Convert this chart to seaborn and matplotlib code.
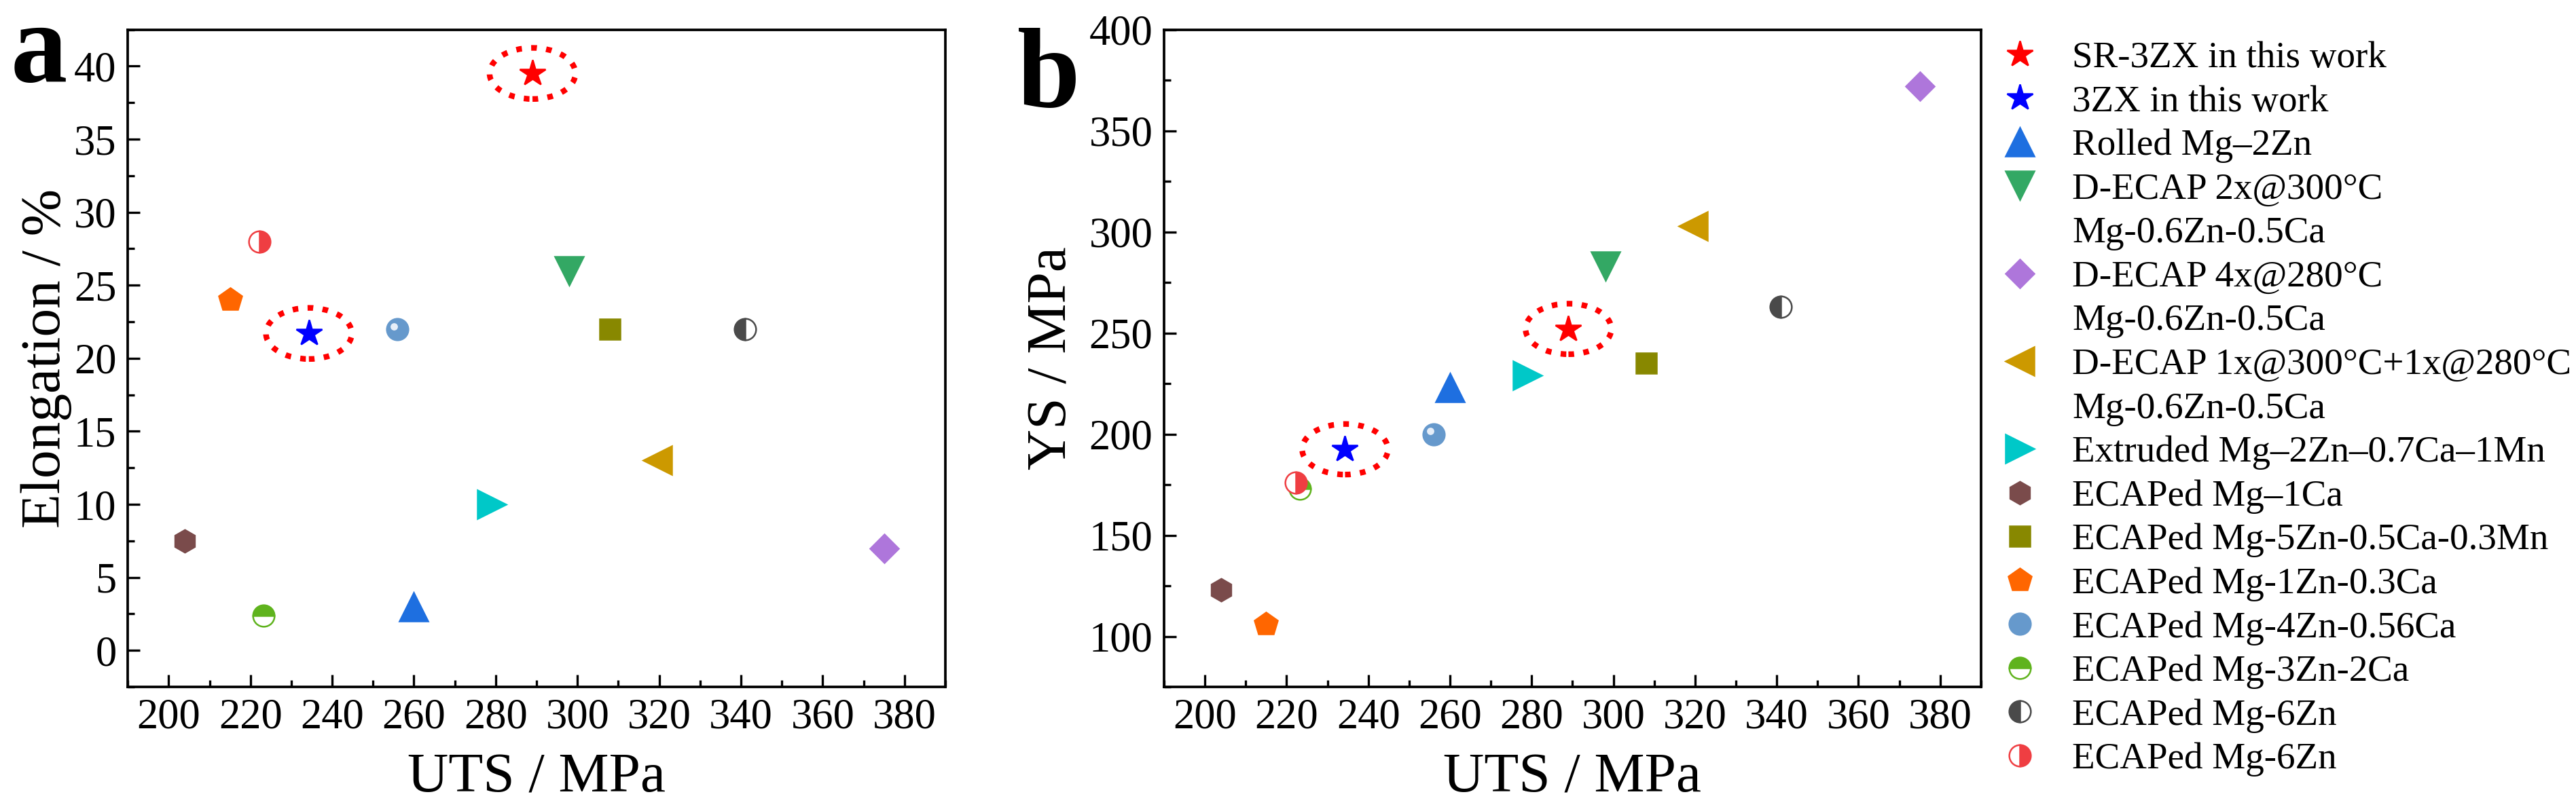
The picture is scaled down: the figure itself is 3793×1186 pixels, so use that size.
#!/usr/bin/env python3

import seaborn as sns
import matplotlib.pyplot as plt
import matplotlib.transforms as mtransforms
from matplotlib.lines import Line2D
from matplotlib.patches import Ellipse
from matplotlib.ticker import MultipleLocator

# Data
labels = [
    "SR-3ZX in this work",
    "3ZX in this work",
    "Rolled Mg\u20132Zn",
    "D-ECAP 2x@300\u00b0C\nMg-0.6Zn-0.5Ca",
    "D-ECAP 4x@280\u00b0C\nMg-0.6Zn-0.5Ca",
    "D-ECAP 1x@300\u00b0C+1x@280\u00b0C\nMg-0.6Zn-0.5Ca",
    "Extruded Mg\u20132Zn\u20130.7Ca\u20131Mn",
    "ECAPed Mg\u20131Ca",
    "ECAPed Mg-5Zn-0.5Ca-0.3Mn",
    "ECAPed Mg-1Zn-0.3Ca",
    "ECAPed Mg-4Zn-0.56Ca",
    "ECAPed Mg-3Zn-2Ca",
    "ECAPed Mg-6Zn",
    "ECAPed Mg-6Zn",
]
uts = [289, 234.3, 260, 298, 375, 319.5, 279, 204, 308, 215, 256, 223.2, 341, 222.2]
elongation = [39.5, 21.7, 3.0, 26.0, 7.0, 13.0, 10.0, 7.5, 22.0, 24.0, 22.0, 2.4, 22.0, 28.0]
yield_strength = [252, 192.5, 223, 283, 372, 303, 229, 123, 235, 106, 200, 173, 263, 176]

markers = ["*", "*", "^", "v", "D", "<", ">", "h", "s", "p", "o", "o", "o", "o"]
colors = ["#ff0000", "#0000ff", "#1e6fe0", "#33a864", "#ae76db", "#cc9900", "#00c8c8",
          "#7a4b4b", "#888800", "#ff6600", "#6699cc", "#5fb31d", "#4a4a4a", "#ef3e42"]
sizes = [9.5, 9.5, 10, 10, 7, 10, 10, 8, 7, 8.6, 7.6, 7.6, 7.6, 7.6]
fills = ["full"] * 11 + ["top", "left", "right"]

SERIF = ["Liberation Serif", "DejaVu Serif"]

sns.set_style("ticks")
plt.rcParams["font.family"] = "serif"
plt.rcParams["font.serif"] = SERIF
for key in ("text.color", "axes.labelcolor", "xtick.color", "ytick.color", "axes.edgecolor"):
    plt.rcParams[key] = "black"

fig = plt.figure(figsize=(3793 / 300, 1186 / 300), dpi=300)
ax_a = fig.add_axes([0.0496, 0.1467, 0.3174, 0.8165])
ax_b = fig.add_axes([0.4519, 0.1467, 0.3171, 0.8165])

handles = []
for ax, yvals in ((ax_a, elongation), (ax_b, yield_strength)):
    for i in range(len(labels)):
        sns.lineplot(x=[uts[i]], y=[yvals[i]], ax=ax, marker=markers[i],
                     markersize=sizes[i], color=colors[i], markeredgecolor=colors[i],
                     markerfacecoloralt="white", fillstyle=fills[i],
                     markeredgewidth=0.6, linestyle="none", legend=False)
        if ax is ax_b:
            handles.append(ax.lines[-1])
    # little highlight on the "sphere" marker
    shift = mtransforms.ScaledTranslation(-1.2 / 72, 1.0 / 72, fig.dpi_scale_trans)
    ax.plot([uts[10]], [yvals[10]], marker="o", ms=2.6, color="#e6eef8",
            mec="none", transform=ax.transData + shift)

# dotted rings around the stars of this work
for ax, yvals, h in ((ax_a, elongation, 3.5), (ax_b, yield_strength, 25)):
    for i in (0, 1):
        ax.add_patch(Ellipse((uts[i], yvals[i]), width=21, height=h, fill=False,
                             edgecolor="red", linestyle=":", linewidth=2.0))

ax_a.set_ylim(-2.5, 42.5)
ax_a.yaxis.set_major_locator(MultipleLocator(5))
ax_a.yaxis.set_minor_locator(MultipleLocator(2.5))
ax_a.set_ylabel("Elongation / %")
ax_a.yaxis.set_label_coords(-0.068, 0.5)

ax_b.set_ylim(75, 400)
ax_b.yaxis.set_major_locator(MultipleLocator(50))
ax_b.yaxis.set_minor_locator(MultipleLocator(25))
ax_b.set_ylabel("YS / MPa")
ax_b.yaxis.set_label_coords(-0.1056, 0.5)

for ax in (ax_a, ax_b):
    ax.set_xlim(190, 390)
    ax.xaxis.set_major_locator(MultipleLocator(20))
    ax.xaxis.set_minor_locator(MultipleLocator(10))
    ax.tick_params(which="both", direction="in", top=False, right=False, width=0.8,
                   labelsize=15, pad=4, colors="black")
    ax.tick_params(which="major", length=4.4)
    ax.tick_params(which="minor", length=2.4)
    for s in ax.spines.values():
        s.set_linewidth(0.9)
        s.set_color("black")
    ax.set_xlabel("UTS / MPa")
    ax.xaxis.set_label_coords(0.5, -0.1)
    for t in [ax.xaxis.label, ax.yaxis.label]:
        t.set_fontfamily(SERIF)
        t.set_fontsize(20)
        t.set_color("black")
    for t in ax.get_xticklabels() + ax.get_yticklabels():
        t.set_fontfamily(SERIF)

fig.text(0.004, 0.899, "a", fontsize=40, fontweight="bold", va="baseline", family=SERIF)
fig.text(0.395, 0.868, "b", fontsize=40, fontweight="bold", va="baseline", family=SERIF)

# legend: second text line of an entry gets an empty handle
leg_handles, leg_texts = [], []
for h, lab in zip(handles, labels):
    parts = lab.split("\n")
    leg_handles.append(h)
    leg_texts.append(parts[0])
    for p in parts[1:]:
        leg_handles.append(Line2D([], [], linestyle="none"))
        leg_texts.append(p)

fig.legend(leg_handles, leg_texts, loc="upper left", bbox_to_anchor=(0.7768, 0.949),
           frameon=False, prop={"family": SERIF, "size": 13.2}, handlelength=1.0,
           handletextpad=0.9, labelspacing=0.256, borderpad=0, borderaxespad=0,
           labelcolor="black")

fig.savefig("out.png", dpi=300)
